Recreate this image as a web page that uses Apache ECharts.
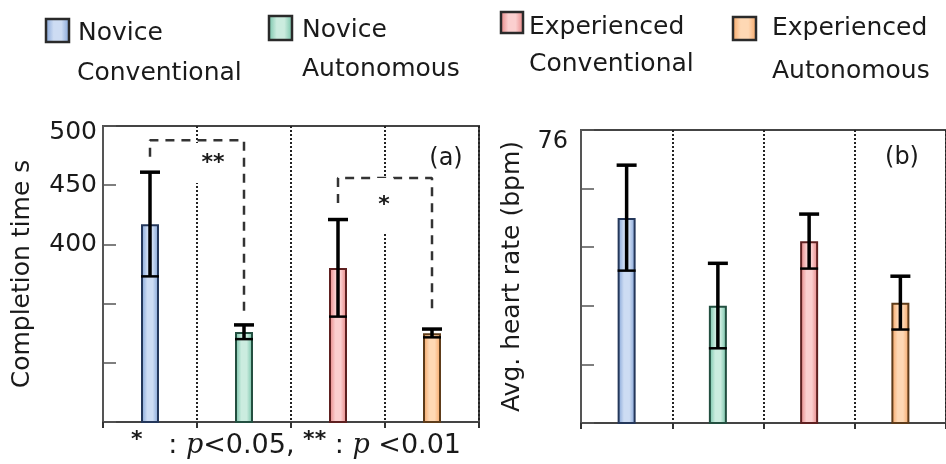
<!DOCTYPE html>
<html>
<head>
<meta charset="utf-8">
<script src="https://cdn.jsdelivr.net/npm/echarts@6/dist/echarts.min.js"></script>
<style>
  html, body { margin: 0; padding: 0; background: #fff; }
  #chart { width: 946px; height: 464px; }
</style>
</head>
<body>
<div id="chart"></div>
<script>
// groups, left to right
var categories = ["Novice Conventional", "Novice Autonomous", "Experienced Conventional", "Experienced Autonomous"];

// (a) completion time, s
var timeMean = [417, 326, 380, 325];
var timeSd = [44, 6, 41, 3.5];
var timeLabels = [400, 450, 500];

// (b) average heart rate, bpm
var hrMean = [73.0, 70.0, 72.2, 70.1];
var hrSd = [1.8, 1.45, 0.93, 0.91];
var hrLabels = [76];

// significance brackets on (a): [category index, value]
var bracketStrong = [[0, 474], [0, 488], [1, 488], [1, 341]];
var bracketWeak = [[2, 435], [2, 456], [3, 456], [3, 345]];

var palette = [
  { edge: "#7d9fd4", light: "#cddcf3", border: "#24375a" },
  { edge: "#6cbfa3", light: "#cbecdf", border: "#234f40" },
  { edge: "#e47e7e", light: "#fbcfcf", border: "#5e2020" },
  { edge: "#f5a260", light: "#fed8b4", border: "#5e3c1a" }
];

function fillOf(i) {
  return new echarts.graphic.LinearGradient(0, 0, 1, 0, [
    { offset: 0, color: palette[i].edge },
    { offset: 0.35, color: palette[i].light },
    { offset: 0.65, color: palette[i].light },
    { offset: 1, color: palette[i].edge }
  ]);
}

function barData(values) {
  return values.map(function (v, i) {
    return { value: v, itemStyle: { color: fillOf(i), borderColor: palette[i].border, borderWidth: 2 } };
  });
}

function errData(mean, sd) {
  return mean.map(function (m, i) { return [i, m, sd[i]]; });
}

function renderErr(params, api) {
  var x = api.value(0), m = api.value(1), s = api.value(2);
  var top = api.coord([x, m + s]);
  var bot = api.coord([x, m - s]);
  var st = { stroke: "#000", lineWidth: 3.5 };
  return {
    type: "group",
    children: [
      { type: "line", shape: { x1: top[0], y1: top[1], x2: bot[0], y2: bot[1] }, style: st },
      { type: "line", shape: { x1: top[0] - 10, y1: top[1], x2: top[0] + 10, y2: top[1] }, style: st },
      { type: "line", shape: { x1: bot[0] - 9, y1: bot[1], x2: bot[0] + 9, y2: bot[1] }, style: { stroke: "#000", lineWidth: 2.5 } }
    ]
  };
}

var FONT = "DejaVu Sans";
var INK = "#1a1a1a";

var xAxisBase = {
  type: "category",
  data: categories,
  axisLabel: { show: false },
  axisLine: { lineStyle: { color: "#444", width: 2 } },
  axisTick: { show: true, interval: 0, length: 6, lineStyle: { color: "#333", width: 2 } },
  splitLine: { show: true, interval: 0, lineStyle: { type: [2, 2], color: "#222", width: 2 } }
};

var legendItems = [
  { box: [46, 19, 23, 23], x: 77, lines: ["Novice", "Conventional"], ys: [33, 73] },
  { box: [269, 16, 23, 24], x: 302, lines: ["Novice", "Autonomous"], ys: [30, 69] },
  { box: [501, 12, 22, 21], x: 529, lines: ["Experienced", "Conventional"], ys: [27, 64] },
  { box: [733, 17, 23, 23], x: 772, lines: ["Experienced", "Autonomous"], ys: [28, 71] }
];

var graphics = [];
legendItems.forEach(function (it, i) {
  graphics.push({
    type: "rect",
    shape: { x: it.box[0], y: it.box[1], width: it.box[2], height: it.box[3] },
    style: { fill: fillOf(i), stroke: "#2a2a2a", lineWidth: 2.5 }
  });
  it.lines.forEach(function (t, k) {
    graphics.push({
      type: "text", x: it.x + (k === 0 && i === 0 ? 1 : 0), y: it.ys[k],
      style: { text: t, font: "25px '" + FONT + "'", fill: INK, textVerticalAlign: "middle" }
    });
  });
});

graphics.push(
  { type: "text", x: 446, y: 159, style: { text: "(a)", font: "24px '" + FONT + "'", fill: INK, textAlign: "center", textVerticalAlign: "middle" } },
  { type: "text", x: 902, y: 158, style: { text: "(b)", font: "24px '" + FONT + "'", fill: INK, textAlign: "center", textVerticalAlign: "middle" } },
  { type: "text", z: 100, x: 209, y: 163, style: { text: "**", font: "bold 22px '" + FONT + "'", fill: INK, textAlign: "center", textVerticalAlign: "middle", backgroundColor: "#fff", padding: [9, 4, 9, 12] } },
  { type: "text", z: 100, x: 384, y: 205, style: { text: "*", font: "bold 22px '" + FONT + "'", fill: INK, textAlign: "center", textVerticalAlign: "middle", backgroundColor: "#fff", padding: [16, 4] } },
  {
    type: "text", x: 131, y: 446,
    style: {
      text: "{s|*}{n|   : }{p|p}{n|<0.05, }{s|**}{n| : }{p|p}{n| <0.01}",
      textVerticalAlign: "middle",
      rich: {
        s: { fontFamily: FONT, fontSize: 22, fontWeight: "bold", fill: INK, color: INK, padding: [0, 0, 12, 0] },
        n: { fontFamily: FONT, fontSize: 27, fill: INK, color: INK },
        p: { fontFamily: "DejaVu Serif", fontStyle: "italic", fontSize: 27, fill: INK, color: INK }
      }
    }
  }
);

var chart = echarts.init(document.getElementById("chart"));

chart.setOption({
  backgroundColor: "#fff",
  animation: false,
  grid: [
    { left: 103, right: 946 - 479, top: 126, bottom: 42, show: true, borderColor: "#444", borderWidth: 2 },
    { left: 581, right: -10, top: 130, bottom: 41, show: true, borderColor: "#444", borderWidth: 2 }
  ],
  xAxis: [
    Object.assign({ gridIndex: 0 }, xAxisBase),
    Object.assign({ gridIndex: 1 }, xAxisBase)
  ],
  yAxis: [
    {
      gridIndex: 0, type: "value", min: 250, max: 500, interval: 50,
      name: "Completion time s", nameLocation: "middle", nameRotate: 90, nameGap: 68,
      nameTextStyle: { fontFamily: FONT, fontSize: 25, color: INK },
      axisLine: { show: true, lineStyle: { color: "#555", width: 2 } },
      axisTick: { show: true, inside: true, length: 13, lineStyle: { color: "#555", width: 1.5 } },
      splitLine: { show: false },
      axisLabel: {
        margin: 6, fontFamily: FONT, fontSize: 25, color: INK,
        formatter: function (v) {
          if (timeLabels.indexOf(v) < 0) return "";
          return v === 500 ? "{t|" + v + "}" : String(v);
        },
        rich: { t: { fontFamily: FONT, fontSize: 25, color: INK, padding: [12, 0, 0, 0] } }
      }
    },
    {
      gridIndex: 1, type: "value", min: 66, max: 76, interval: 2,
      name: "Avg. heart rate (bpm)", nameLocation: "middle", nameRotate: 90, nameGap: 56,
      nameTextStyle: { fontFamily: FONT, fontSize: 25, color: INK },
      axisLine: { show: true, lineStyle: { color: "#555", width: 2 } },
      axisTick: { show: true, inside: true, length: 13, lineStyle: { color: "#555", width: 1.5 } },
      splitLine: { show: false },
      axisLabel: {
        margin: 13, fontFamily: FONT, fontSize: 24, color: INK, verticalAlign: "top",
        formatter: function (v) { return hrLabels.indexOf(v) < 0 ? "" : String(v); }
      }
    }
  ],
  series: [
    { type: "bar", xAxisIndex: 0, yAxisIndex: 0, barWidth: 18, data: barData(timeMean), z: 2 },
    { type: "bar", xAxisIndex: 1, yAxisIndex: 1, barWidth: 18, data: barData(hrMean), z: 2 },
    { type: "custom", xAxisIndex: 0, yAxisIndex: 0, renderItem: renderErr, data: errData(timeMean, timeSd), z: 3 },
    { type: "custom", xAxisIndex: 1, yAxisIndex: 1, renderItem: renderErr, data: errData(hrMean, hrSd), z: 3 },
    {
      type: "line", xAxisIndex: 0, yAxisIndex: 0, data: bracketStrong, symbol: "none", z: 4,
      lineStyle: { color: "#333", width: 2.5, type: [9, 7] }
    },
    {
      type: "line", xAxisIndex: 0, yAxisIndex: 0, data: bracketWeak, symbol: "none", z: 4,
      lineStyle: { color: "#333", width: 2.5, type: [9, 7] }
    }
  ],
  graphic: graphics
});
</script>
</body>
</html>
